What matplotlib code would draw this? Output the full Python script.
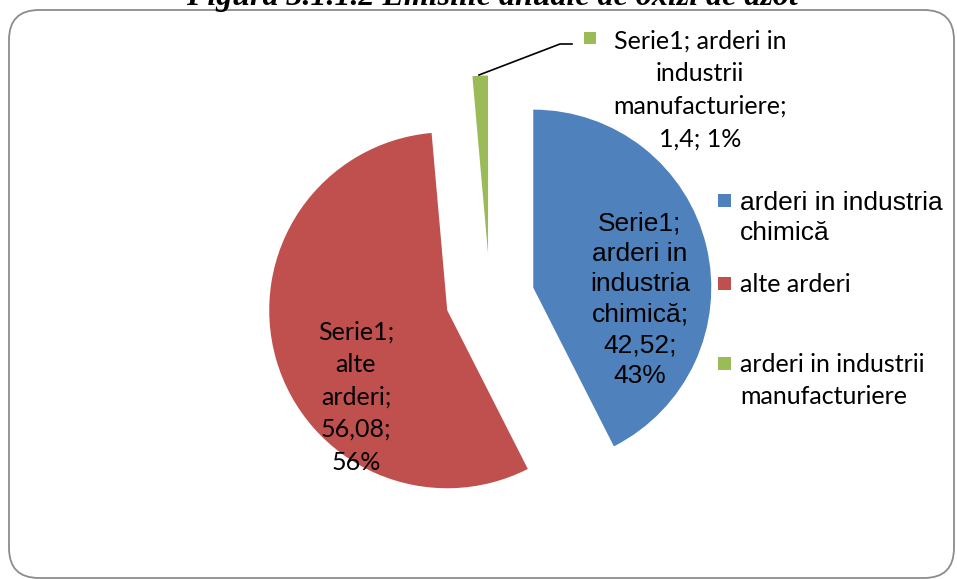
import matplotlib.pyplot as plt
from matplotlib.patches import FancyBboxPatch, Rectangle

# data
categories = ["arderi in industria chimică", "alte arderi", "arderi in industrii manufacturiere"]
values = [42.52, 56.08, 1.4]
percents = ["43%", "56%", "1%"]
value_txt = ["42,52", "56,08", "1,4"]
colors = ["#4F81BD", "#C0504D", "#9BBB59"]

W, H = 957, 579
fig = plt.figure(figsize=(W / 100, H / 100), dpi=100)
ax = fig.add_axes([0, 0, 1, 1])

def py(y):
    # pixel row (from top) -> data y
    return H - y

def lines(x, yc, rows, step, fs=18, fam="Lato"):
    n = len(rows)
    for i, r in enumerate(rows):
        ax.text(x, py(yc + (i - (n - 1) / 2) * step), r, ha="center",
                va="center_baseline", fontsize=fs, family=fam, zorder=3)

# rounded frame
frame = FancyBboxPatch((9, py(578)), 945, 568, boxstyle="round,pad=0,rounding_size=30",
                       fc="white", ec="#8c8c8c", lw=1.3, zorder=0)
ax.add_patch(frame)

R = 178
wedges, _ = ax.pie(values, colors=colors, startangle=90, counterclock=False,
                   explode=[0.25 * R] * 3, center=(490, py(298)), radius=R,
                   wedgeprops=dict(linewidth=0))
for w in wedges:
    w.set_zorder(2)

ax.set_xlim(0, W)
ax.set_ylim(0, H)
ax.set_aspect("auto")
ax.axis("off")

# title (clipped at top of the picture, as in the source)
fig.text(0.514, 1 - 5 / H, "Figura 3.1.1.2 Emisiile anuale de oxizi de azot",
         ha="center", va="baseline", fontsize=23, fontweight="bold",
         fontstyle="italic", family="Liberation Serif")

# data labels
lines(640, 297, ["Serie1;", "arderi in", "industria", "chimică;",
                 value_txt[0] + ";", percents[0]], 30.6, fs=19, fam="Liberation Sans")
lines(356, 395, ["Serie1;", "alte", "arderi;", value_txt[1] + ";", percents[1]], 32.5)
lines(700, 88, ["Serie1; arderi in", "industrii", "manufacturiere;",
                value_txt[2] + "; " + percents[2]], 32.5)
ax.add_patch(Rectangle((584, py(44)), 12, 12, fc=colors[2], ec="none", zorder=3))
ax.plot([479, 560, 572], [py(75), py(44), py(44)], color="black", lw=1.2, zorder=3)

# legend
leg_rows = [(200, ["arderi in industria", "chimică"], "Liberation Sans", 19),
            (283, ["alte arderi"], "Lato", 18),
            (363, ["arderi in industrii", "manufacturiere"], "Lato", 18)]
for (y, rows, fam, fs), c in zip(leg_rows, colors):
    ax.add_patch(Rectangle((718, py(y + 7)), 13, 13, fc=c, ec="none", zorder=3))
    for i, r in enumerate(rows):
        ax.text(740, py(y + i * 31), r, ha="left", va="center_baseline",
                fontsize=fs, family=fam, zorder=3)

fig.savefig("out.png", dpi=100)
